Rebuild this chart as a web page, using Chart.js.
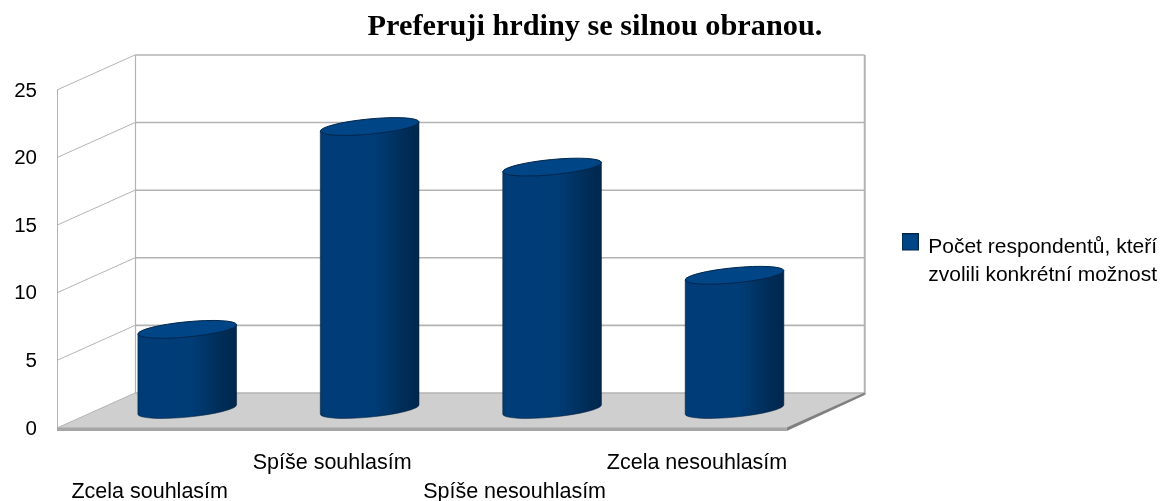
<!DOCTYPE html>
<html>
<head>
<meta charset="utf-8">
<style>html,body{margin:0;padding:0;background:#fff}canvas{display:block}</style>
<script src="https://cdn.jsdelivr.net/npm/chart.js@4"></script>
</head>
<body>
<canvas id="c" width="1166" height="501"></canvas>
<script>
const chartTitle = 'Preferuji hrdiny se silnou obranou.';
const categories = ['Zcela souhlasím', 'Spíše souhlasím', 'Spíše nesouhlasím', 'Zcela nesouhlasím'];
const counts = [6, 21, 18, 10];
const seriesLines = ['Počet respondentů, kteří', 'zvolili konkrétní možnost'];

const DX = 78, DY = 35;
const TILT = Math.atan2(9.5, 99);
const RY = 7.6;

Chart.BarElement.prototype.draw = function (ctx) {
  const {x, y, base, width} = this.getProps(['x', 'y', 'base', 'width']);
  const cx = x + DX / 2, top = y - DY / 2, bot = base - DY / 2 - 1;
  const rx = width / 2 + 0.3;
  const tx = rx * Math.cos(TILT), ty = rx * Math.sin(TILT);
  const g = ctx.createLinearGradient(cx - rx, 0, cx + rx, 0);
  g.addColorStop(0, '#003a72');
  g.addColorStop(0.06, '#003d78');
  g.addColorStop(0.55, '#003c76');
  g.addColorStop(0.72, '#003465');
  g.addColorStop(0.84, '#002d58');
  g.addColorStop(1, '#00274d');
  ctx.save();
  ctx.beginPath();
  ctx.moveTo(cx - tx, top + ty);
  ctx.lineTo(cx - tx, bot + ty);
  ctx.ellipse(cx, bot, rx, RY, -TILT, Math.PI, 0, true);
  ctx.lineTo(cx + tx, top - ty);
  ctx.closePath();
  ctx.fillStyle = g;
  ctx.fill();
  ctx.strokeStyle = 'rgba(0,30,60,0.55)';
  ctx.lineWidth = 1;
  ctx.stroke();
  ctx.beginPath();
  ctx.ellipse(cx, top, rx, RY, -TILT, 0, Math.PI * 2);
  ctx.fillStyle = '#004586';
  ctx.fill();
  ctx.strokeStyle = '#00264c';
  ctx.stroke();
  ctx.restore();
};

// legend swatch sits a little above the first text line, as in the reference
const swatch = document.createElement('canvas');
swatch.width = 17; swatch.height = 28;
(function () {
  const s = swatch.getContext('2d');
  s.fillStyle = '#004586'; s.fillRect(0.5, 0.5, 16, 16);
  s.strokeStyle = '#00264c'; s.lineWidth = 1; s.strokeRect(0.5, 0.5, 16, 16);
})();

const box3d = {
  id: 'box3d',
  afterLayout(chart) {
    // title and legend offsets of the reference
    chart.titleBlock.left += 20;
    chart.legend.top += 6;
    chart.legend.bottom += 6;
  },
  beforeDatasetsDraw(chart) {
    const {ctx, chartArea: a, scales: {y: ys}} = chart;
    const L = a.left, R = a.right, B = a.bottom;
    ctx.save();
    const line = (pts, color, w) => {
      ctx.beginPath();
      pts.forEach((p, i) => i ? ctx.lineTo(p[0], p[1]) : ctx.moveTo(p[0], p[1]));
      ctx.strokeStyle = color; ctx.lineWidth = w; ctx.stroke();
    };
    // floor
    ctx.beginPath();
    ctx.moveTo(L, B); ctx.lineTo(L + DX, B - DY); ctx.lineTo(R + DX, B - DY); ctx.lineTo(R, B);
    ctx.closePath();
    ctx.fillStyle = '#cfcfcf'; ctx.fill();
    // walls
    const T = ys.top;
    line([[L + 0.5, T], [L + 0.5, B]], '#b3b3b3', 1);
    line([[L + DX + 0.5, T - DY], [L + DX + 0.5, B - DY]], '#b3b3b3', 1.2);
    line([[R + DX, T - DY], [R + DX, B - DY + 2]], '#b3b3b3', 2);
    ys.ticks.forEach(t => {
      const p = ys.getPixelForValue(t.value);
      line([[L, p], [L + DX, p - DY]], '#b3b3b3', 1);
      line([[L + DX, p - DY], [R + DX, p - DY]], '#b3b3b3', 1.6);
    });
    // floor edges
    ctx.beginPath();
    ctx.moveTo(L, B - 0.5); ctx.lineTo(R, B - 0.5); ctx.lineTo(R, B + 3); ctx.lineTo(L, B + 3);
    ctx.closePath();
    ctx.fillStyle = '#a6a6a6'; ctx.fill();
    ctx.beginPath();
    ctx.moveTo(R, B + 3); ctx.lineTo(R + DX, B - DY + 2); ctx.lineTo(R + DX, B - DY - 0.5); ctx.lineTo(R, B - 0.5);
    ctx.closePath();
    ctx.fillStyle = '#808080'; ctx.fill();
    ctx.restore();
  }
};

new Chart(document.getElementById('c'), {
  type: 'bar',
  data: {
    labels: categories,
    datasets: [{
      label: seriesLines.join(' '),
      data: counts,
      backgroundColor: '#004586',
      borderColor: '#00264c',
      categoryPercentage: 1,
      barPercentage: 0.54,
      clip: false
    }]
  },
  plugins: [box3d],
  options: {
    responsive: false,
    animation: false,
    layout: {padding: {left: 3, right: -1, top: 0, bottom: 0}, autoPadding: false},
    plugins: {
      tooltip: {enabled: false},
      title: {
        display: true,
        text: chartTitle,
        color: '#000',
        font: {family: '"Liberation Serif"', size: 30.3, weight: 'bold', lineHeight: 1.2},
        padding: {top: 9, bottom: 44.6}
      },
      legend: {
        position: 'right',
        fullSize: false,
        maxWidth: 800,
        labels: {
          padding: 116,
          boxWidth: 15,
          boxHeight: 16,
          usePointStyle: true,
          pointStyle: swatch,
          color: '#000',
          font: {family: '"Liberation Sans"', size: 21, lineHeight: 1.333},
          generateLabels: () => [{
            text: seriesLines,
            pointStyle: swatch,
            fillStyle: '#004586',
            strokeStyle: '#00264c',
            lineWidth: 1,
            datasetIndex: 0
          }]
        }
      }
    },
    scales: {
      x: {
        afterFit(s) { s.height = 73; },
        grid: {display: false, drawTicks: false},
        border: {display: false},
        ticks: {
          color: '#000',
          font: {family: '"Liberation Sans"', size: 21.5, lineHeight: 1.33},
          padding: 21,
          labelOffset: 1.5,
          maxRotation: 0,
          minRotation: 0,
          autoSkip: false,
          callback(v, i) { const t = this.getLabelForValue(v); return i % 2 === 0 ? ['', t] : t; }
        }
      },
      y: {
        min: 0,
        max: 25,
        afterFit(s) { s.width = 54; },
        grid: {display: false, drawTicks: false},
        border: {display: false},
        ticks: {
          stepSize: 5,
          color: '#000',
          font: {family: '"Liberation Sans"', size: 20.5},
          padding: 20,
          labelOffset: 1
        }
      }
    }
  }
});
</script>
</body>
</html>
